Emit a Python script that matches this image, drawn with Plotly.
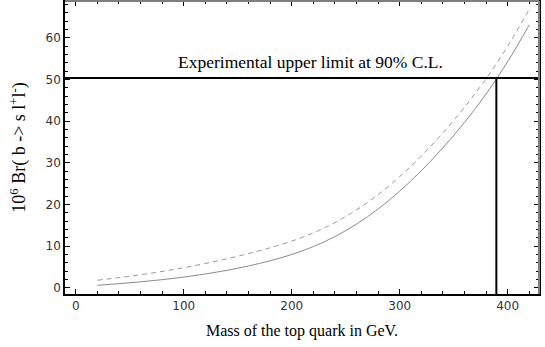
import plotly.graph_objects as go

mass = [20, 40, 60, 80, 100, 120, 140, 160, 180, 200, 220, 240, 260, 280, 300,
        320, 340, 360, 380, 400, 420]
br_solid = [0.6, 0.98, 1.42, 1.94, 2.56, 3.30, 4.18, 5.23, 6.48, 7.98, 9.88, 12.28,
            15.28, 18.88, 23.18, 28.08, 33.58, 39.68, 46.48, 54.28, 63.08]
br_dashed = [1.8, 2.43, 3.12, 3.92, 4.81, 5.82, 6.96, 8.2, 9.58, 11.18, 13.16, 15.64,
             18.7, 22.34, 26.68, 31.62, 37.16, 43.3, 50.14, 57.98, 66.83]
limit_br = 50.3
limit_mass = 389.5
x_ticks = [0, 100, 200, 300, 400]
y_ticks = [0, 10, 20, 30, 40, 50, 60]
x_range = [-10, 429]
y_range = [-1.5, 68.8]

fig = go.Figure()
fig.add_trace(go.Scatter(x=mass, y=br_dashed, mode="lines", line_shape="spline",
                         line=dict(color="#9a9a9a", width=1, dash="5px,4px"),
                         showlegend=False))
fig.add_trace(go.Scatter(x=mass, y=br_solid, mode="lines", line_shape="spline",
                         line=dict(color="#8a8a8a", width=1),
                         showlegend=False))

fig.add_shape(type="line", xref="paper", yref="y", x0=0, x1=1, y0=limit_br, y1=limit_br,
              line=dict(color="black", width=2))
fig.add_shape(type="line", xref="x", yref="y", x0=limit_mass, x1=limit_mass,
              y0=y_range[0], y1=limit_br, line=dict(color="black", width=2))
# grey top and right frame
fig.add_shape(type="line", xref="paper", yref="paper", x0=0, x1=1, y0=1, y1=1,
              line=dict(color="#808080", width=2))
fig.add_shape(type="line", xref="paper", yref="paper", x0=1, x1=1, y0=0, y1=1,
              line=dict(color="#808080", width=2))

fig.add_annotation(text="Experimental upper limit at 90% C.L.", x=217.5, y=limit_br,
                   xref="x", yref="y", yanchor="bottom", yshift=4, showarrow=False,
                   font=dict(family="Liberation Serif", size=17.5, color="black"))

tickfont = dict(family="DejaVu Sans", size=12, color="#333333")
titlefont = dict(family="Liberation Serif", size=16, color="black")
fig.update_xaxes(range=x_range, tickvals=x_ticks, ticks="inside", ticklen=5,
                 tickcolor="black", showline=True, linecolor="black", linewidth=1.5,
                 mirror="ticks", showgrid=False, zeroline=False, tickfont=tickfont,
                 automargin=False,
                 minor=dict(dtick=20, tick0=0, ticks="inside", ticklen=3, tickcolor="black"),
                 title=dict(text="Mass of the top quark in GeV.", font=titlefont,
                            standoff=13))
fig.update_yaxes(range=y_range, tickvals=y_ticks, ticks="inside", ticklen=5,
                 tickcolor="black", showline=True, linecolor="black", linewidth=1.5,
                 mirror="ticks", showgrid=False, zeroline=False, tickfont=tickfont,
                 automargin=False,
                 minor=dict(dtick=2, tick0=0, ticks="inside", ticklen=3, tickcolor="black"),
                 title=dict(text="10<sup>6</sup> Br( b -> s l<sup>+</sup>l<sup>-</sup>)",
                            font=dict(family="Liberation Serif", size=18, color="black"),
                            standoff=15))

fig.update_layout(width=545, height=347, margin=dict(l=65, r=6, t=1, b=53),
                  plot_bgcolor="white", paper_bgcolor="white")
fig.write_html("out.html", config={"displayModeBar": False},
               post_script="document.body.style.margin='0';document.body.style.overflow='hidden';")
